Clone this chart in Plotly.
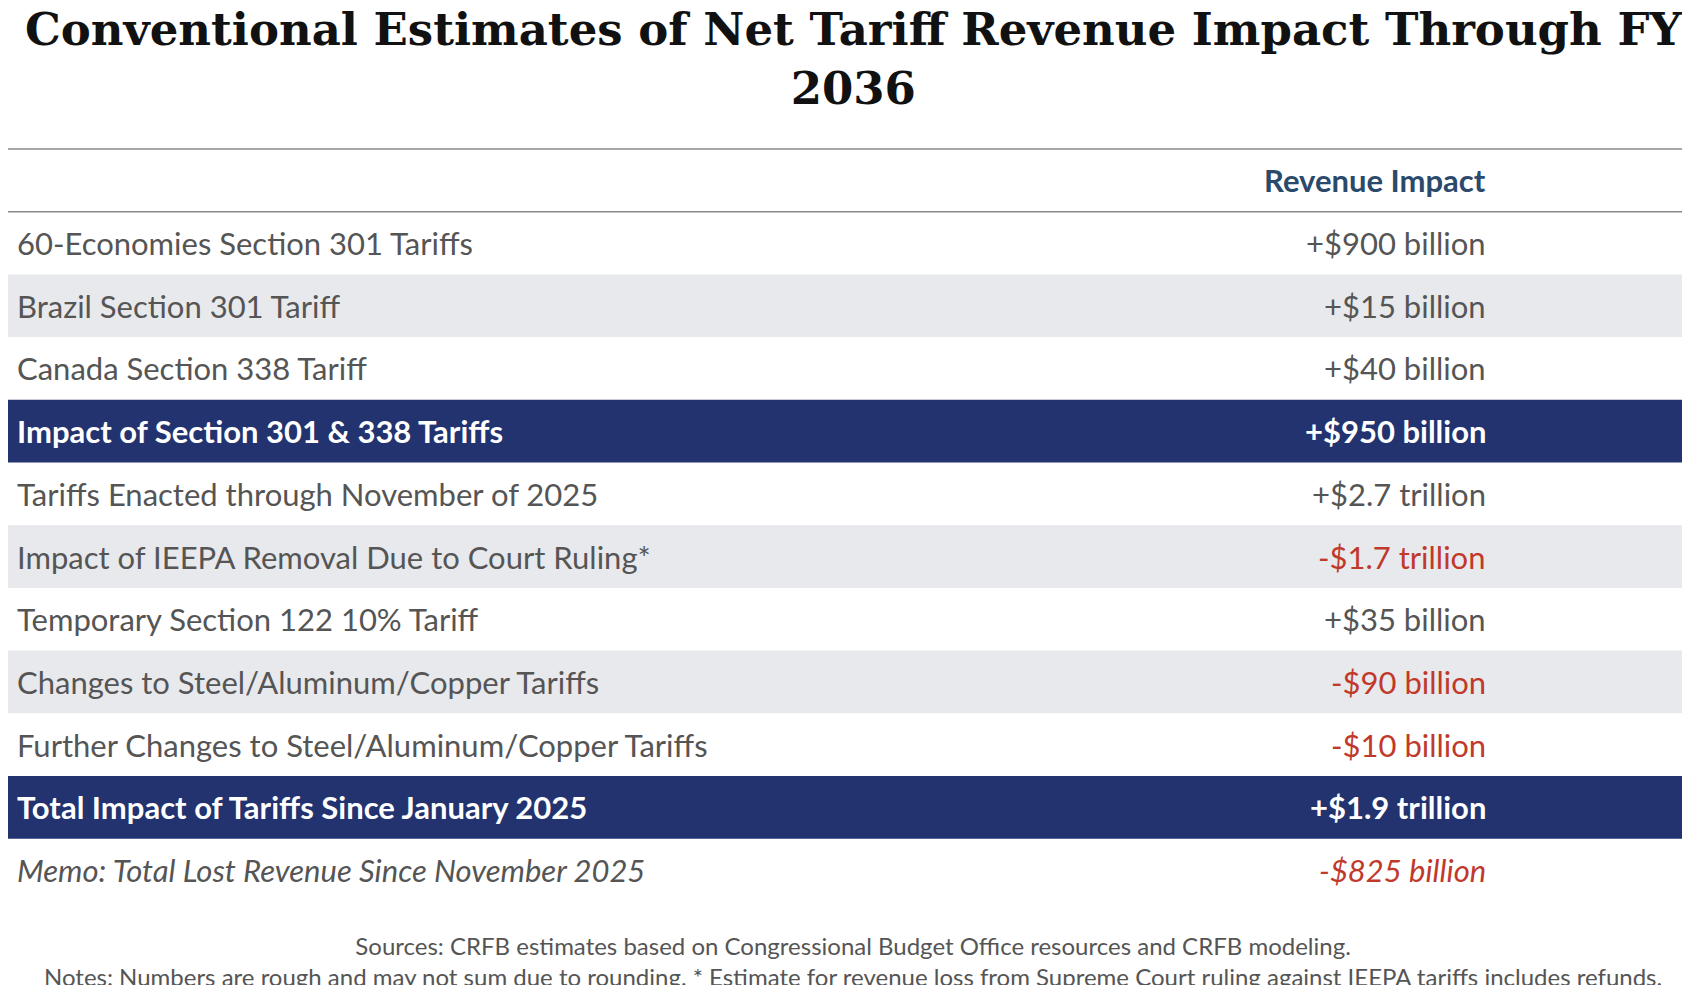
import plotly.graph_objects as go

# --- table data ---
labels = [
    "60-Economies Section 301 Tariffs",
    "Brazil Section 301 Tariff",
    "Canada Section 338 Tariff",
    "Impact of Section 301 & 338 Tariffs",
    "Tariffs Enacted through November of 2025",
    "Impact of IEEPA Removal Due to Court Ruling*",
    "Temporary Section 122 10% Tariff",
    "Changes to Steel/Aluminum/Copper Tariffs",
    "Further Changes to Steel/Aluminum/Copper Tariffs",
    "Total Impact of Tariffs Since January 2025",
    "Memo: Total Lost Revenue Since November 2025",
]
impacts = [
    "+$900 billion", "+$15 billion", "+$40 billion", "+$950 billion",
    "+$2.7 trillion", "-$1.7 trillion", "+$35 billion", "-$90 billion",
    "-$10 billion", "+$1.9 trillion", "-$825 billion",
]
row_kind = ["plain", "plain", "plain", "total", "plain", "plain", "plain",
            "plain", "plain", "total", "memo"]

NAVY = "#22336f"
STRIPE = "#e8e9ec"
GREY_TXT = "#555555"
RED = "#c0392b"
FONT = "Lato, sans-serif"

W, H = 1690, 985
top_px = 141      # top rule
row_px = 62.7     # height of header and body rows
val_x = 0.876     # centre of value column (paper)

def fmt(text, kind):
    if kind == "total":
        return f"<b>{text}</b>"
    if kind == "memo":
        return f"<i>{text}</i>"
    return text

fig = go.Figure()

# y axis in pixels, top = 0
fig.update_xaxes(range=[0, 1], visible=False)
fig.update_yaxes(range=[H, 0], visible=False)

# rules above and below the header
for yy in (top_px, top_px + row_px):
    fig.add_shape(type="line", xref="paper", yref="y", x0=0, x1=1, y0=yy, y1=yy,
                  line=dict(color="#8a8a8a", width=1.5))

fig.add_annotation(text="<b>Revenue Impact</b>", xref="paper", yref="y",
                   x=val_x, y=top_px + row_px / 2, showarrow=False,
                   font=dict(family=FONT, size=31, color="#2b4a6b"))

for i, (lab, val, kind) in enumerate(zip(labels, impacts, row_kind)):
    y0 = top_px + row_px * (i + 1)
    if kind == "total":
        fill = NAVY
    elif i % 2 == 1 and kind != "memo":
        fill = STRIPE
    else:
        fill = None
    if fill:
        fig.add_shape(type="rect", xref="paper", yref="y", x0=0, x1=1,
                      y0=y0, y1=y0 + row_px, fillcolor=fill, line_width=0,
                      layer="below")
    lab_col = "white" if kind == "total" else GREY_TXT
    val_col = "white" if kind == "total" else (RED if val.startswith("-") else GREY_TXT)
    fig.add_annotation(text=fmt(lab, kind), xref="paper", yref="y", x=0.004,
                       xanchor="left", y=y0 + row_px / 2, showarrow=False,
                       font=dict(family=FONT, size=31, color=lab_col))
    fig.add_annotation(text=fmt(val, kind), xref="paper", yref="y", x=val_x,
                       y=y0 + row_px / 2, showarrow=False,
                       font=dict(family=FONT, size=31, color=val_col))

fig.add_annotation(
    text="<b>Conventional Estimates of Net Tariff Revenue Impact Through FY<br>2036</b>",
    xref="paper", yref="y", x=0.5, y=51, showarrow=False,
    font=dict(family="DejaVu Serif, serif", size=45, color="#111111"),
)
fig.add_annotation(
    text="Sources: CRFB estimates based on Congressional Budget Office resources and CRFB modeling.<br>"
         "Notes: Numbers are rough and may not sum due to rounding. * Estimate for revenue loss from "
         "Supreme Court ruling against IEEPA tariffs includes refunds.",
    xref="paper", yref="y", x=0.5, y=953, showarrow=False,
    font=dict(family=FONT, size=24, color="#555555"),
)

fig.update_layout(width=W, height=H, margin=dict(l=0, r=0, t=0, b=0),
                  paper_bgcolor="white", plot_bgcolor="white")

fig.write_html("out.html")
